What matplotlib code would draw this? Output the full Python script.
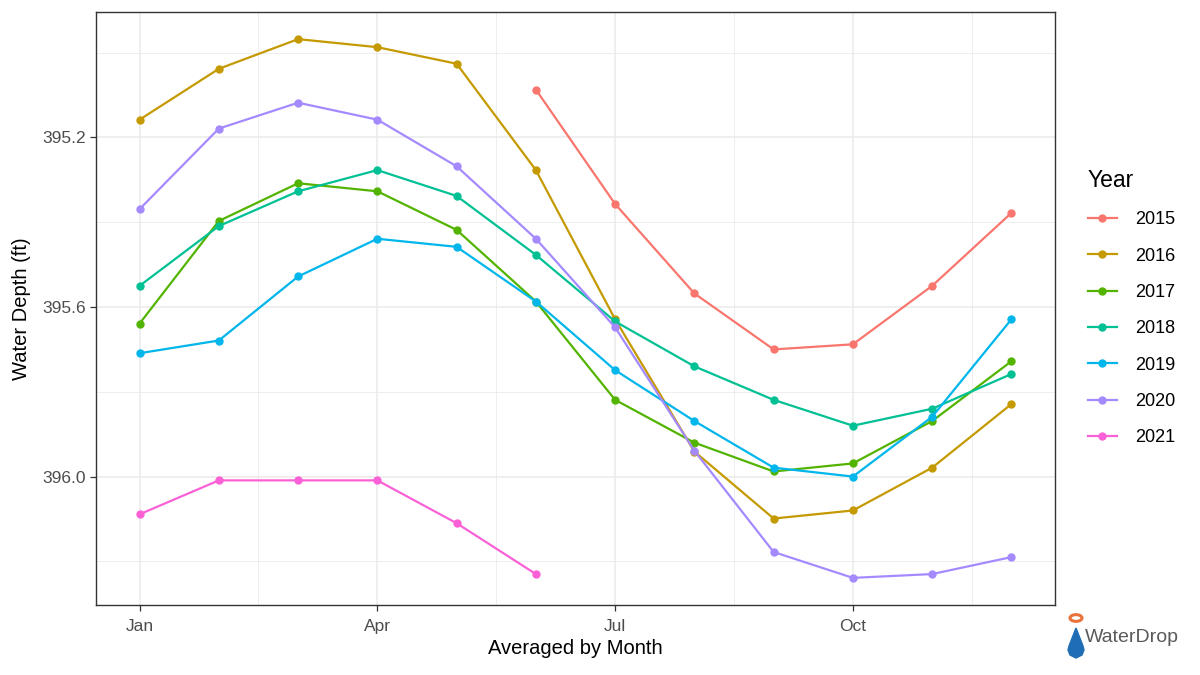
import matplotlib
matplotlib.use("Agg")
import matplotlib.pyplot as plt
from matplotlib.patches import Circle, Polygon
import numpy as np

plt.rcParams['font.family'] = ['Liberation Sans', 'DejaVu Sans']

months = list(range(1, 13))
years = ["2015", "2016", "2017", "2018", "2019", "2020", "2021"]
colors = ["#F8766D", "#C49A00", "#53B400", "#00C094", "#00B6EB", "#A58AFF", "#FB61D7"]

d2015 = [None, None, None, None, None, 395.087, 395.357, 395.568, 395.700, 395.688, 395.550, 395.378]
d2016 = [395.158, 395.038, 394.968, 394.987, 395.026, 395.277, 395.629, 395.941, 396.099, 396.080, 395.979, 395.829]
d2017 = [395.639, 395.397, 395.308, 395.327, 395.418, 395.587, 395.819, 395.920, 395.988, 395.969, 395.869, 395.728]
d2018 = [395.550, 395.409, 395.327, 395.277, 395.338, 395.477, 395.634, 395.740, 395.819, 395.880, 395.840, 395.758]
d2019 = [395.709, 395.679, 395.528, 395.439, 395.458, 395.587, 395.749, 395.869, 395.979, 396.000, 395.859, 395.629]
d2020 = [395.369, 395.179, 395.118, 395.158, 395.268, 395.439, 395.648, 395.939, 396.178, 396.239, 396.230, 396.190]
d2021 = [396.089, 396.009, 396.009, 396.009, 396.110, 396.230, None, None, None, None, None, None]
series = [d2015, d2016, d2017, d2018, d2019, d2020, d2021]

xticks = [1, 4, 7, 10]
xticklabels = ["Jan", "Apr", "Jul", "Oct"]
yticks = [395.2, 395.6, 396.0]
yticklabels = ["395.2", "395.6", "396.0"]

fig = plt.figure(figsize=(12, 6.75), dpi=100)
ax = fig.add_axes([96/1200, 1-605/675, (1055-96)/1200, (605-12)/675])

handles = []
for yr, col, vals in zip(years, colors, series):
    xs = [m for m, v in zip(months, vals) if v is not None]
    ys = [v for v in vals if v is not None]
    h, = ax.plot(xs, ys, color=col, lw=1.6, marker='o', ms=5, zorder=3)
    handles.append(h)

ax.set_xlim(0.45, 12.55)
ax.set_ylim(396.303, 394.904)
ax.set_xticks(xticks)
ax.set_xticklabels(xticklabels)
ax.set_yticks(yticks)
ax.set_yticklabels(yticklabels)
ax.set_xticks([2.5, 5.5, 8.5, 11.5], minor=True)
ax.set_yticks([395.0, 395.4, 395.8, 396.2], minor=True)
ax.grid(True, which='major', color='#EBEBEB', lw=1.1, zorder=0)
ax.grid(True, which='minor', color='#EBEBEB', lw=0.6, zorder=0)
ax.set_axisbelow(True)
for s in ax.spines.values():
    s.set_color('#333333')
    s.set_linewidth(1.0)
ax.tick_params(which='major', length=4, color='#333333', labelsize=12.5, labelcolor='#4D4D4D', width=0.9)
ax.tick_params(axis='x', which='major', pad=6)
ax.tick_params(which='minor', length=0)
ax.set_xlabel("Averaged by Month", fontsize=14.5, labelpad=4)
ax.set_ylabel("Water Depth (ft)", fontsize=14.5, labelpad=8)

leg = ax.legend(handles, years, title="Year", loc='upper left',
                bbox_to_anchor=(1088/1200, 1-169/675), bbox_transform=fig.transFigure,
                frameon=False, fontsize=13, title_fontsize=16.5, handlelength=1.6,
                labelspacing=1.07, handletextpad=1.0, borderaxespad=0, borderpad=0)
leg._legend_box.align = "left"

# WaterDrop logo
drop = Polygon([(1076/1200, 1-628/675), (1069/1200, 1-646/675), (1068/1200, 1-650/675),
                (1070/1200, 1-655/675), (1076/1200, 1-658/675), (1082/1200, 1-655/675),
                (1084/1200, 1-650/675), (1083/1200, 1-646/675)],
               closed=True, transform=fig.transFigure, color='#1F6DB5', zorder=5)
fig.patches.append(drop)
pin = Circle((1076/1200, 1-618/675), 6/1200, transform=fig.transFigure,
             facecolor='white', edgecolor='#E8743B', lw=2.2)
fig.patches.append(pin)
fig.text(1085/1200, 1-638/675, "WaterDrop", fontsize=14, color='#5A5A5A', va='center', ha='left')

fig.savefig("out.png", dpi=100)
